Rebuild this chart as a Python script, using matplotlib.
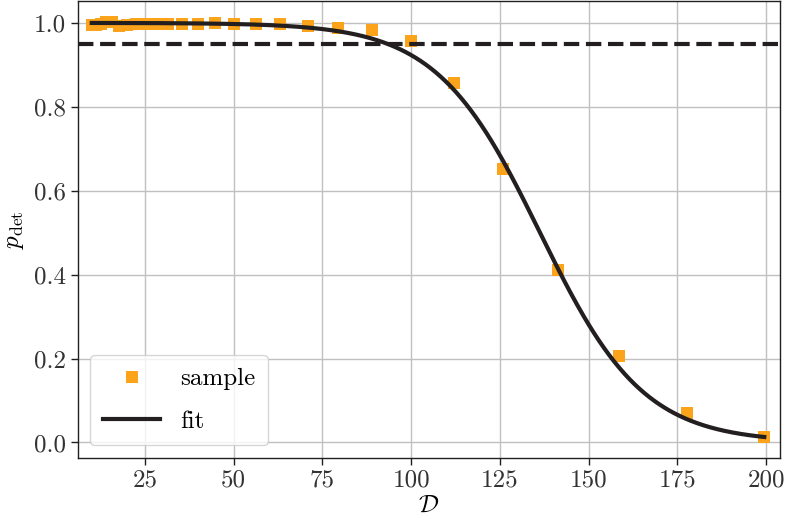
import numpy as np
import matplotlib
matplotlib.use("Agg")
import matplotlib.pyplot as plt

# -----------------------------
# Data
# -----------------------------
sample_D = [10.0, 11.2, 12.6, 14.1, 15.8, 17.8, 20.0, 22.4, 25.1, 28.2,
            31.6, 35.5, 39.8, 44.7, 50.1, 56.2, 63.1, 70.8, 79.4, 89.1,
            100.0, 112.2, 125.9, 141.3, 158.5, 177.8, 199.5]
sample_p = [0.995, 0.996, 0.998, 1.001, 1.003, 0.993, 0.994, 0.997, 0.997, 0.998,
            0.998, 0.997, 0.997, 1.000, 0.998, 0.998, 0.998, 0.993, 0.988, 0.984,
            0.956, 0.856, 0.651, 0.411, 0.205, 0.070, 0.014]

# logistic fit parameters
fit_D0 = 136.3
fit_scale = 14.6
fit_range = (10.0, 199.5)

threshold = 0.95

x_ticks = [25, 50, 75, 100, 125, 150, 175, 200]
y_ticks = [0.0, 0.2, 0.4, 0.6, 0.8, 1.0]

# -----------------------------
# Style
# -----------------------------
plt.rcParams["font.family"] = "serif"
plt.rcParams["font.serif"] = ["cmr10"]
plt.rcParams["mathtext.fontset"] = "cm"
plt.rcParams["axes.formatter.use_mathtext"] = True
plt.rcParams["font.size"] = 18

dark = "#231f20"
orange = "#fca31c"

fig = plt.figure(figsize=(7.87, 5.24), dpi=100)
ax = fig.add_axes([0.099, 0.126, 0.892, 0.872])

fit_x = np.linspace(fit_range[0], fit_range[1], 400)
fit_y = 1.0 / (1.0 + np.exp((fit_x - fit_D0) / fit_scale))

ax.plot(sample_D, sample_p, "s", color=orange, markersize=8.5,
        markeredgewidth=0, label="sample", zorder=3)
ax.plot(fit_x, fit_y, color=dark, linewidth=3, label="fit", zorder=4)
ax.axhline(threshold, color=dark, linewidth=3, linestyle="--", zorder=4)

ax.set_xlim(6.1, 203.9)
ax.set_ylim(-0.037, 1.052)
ax.set_xticks(x_ticks)
ax.set_yticks(y_ticks)
ax.set_yticklabels([f"{v:.1f}" for v in y_ticks])
ax.set_xticklabels([str(v) for v in x_ticks])

ax.grid(True, color="#c0c0c0", linewidth=1.0)
ax.set_axisbelow(True)

for spine in ax.spines.values():
    spine.set_color(dark)
    spine.set_linewidth(1.0)
ax.tick_params(colors=dark, labelcolor="#333333", length=5, width=1)

ax.set_xlabel(r"$\mathcal{D}$", labelpad=2)
ax.set_ylabel(r"$p_{\rm det}$", labelpad=6)

ax.legend(loc="lower left", borderaxespad=0.5,
          handlelength=2.3, borderpad=0.5, labelspacing=0.8,
          framealpha=0.8, edgecolor="#cccccc")

plt.savefig("out.png", dpi=100)
